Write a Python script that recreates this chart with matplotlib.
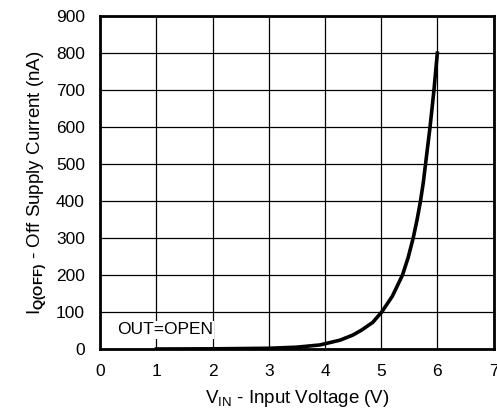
import matplotlib.pyplot as plt

plt.rcParams['font.family'] = ['Liberation Sans', 'DejaVu Sans']
plt.rcParams['mathtext.fontset'] = 'custom'
plt.rcParams['mathtext.rm'] = 'Liberation Sans'
plt.rcParams['mathtext.bf'] = 'Liberation Sans:bold'

# data
v_in = [1.0, 2.0, 3.0, 3.5, 3.91, 4.27, 4.5, 4.65, 4.85, 5.01, 5.2, 5.38,
        5.48, 5.57, 5.64, 5.70, 5.75, 5.79, 5.83, 5.87, 5.94, 6.0]
i_off = [0.0, 0.5, 2, 5, 11, 24, 38, 51, 72, 100, 143, 200,
         247, 300, 350, 400, 450, 500, 550, 600, 700, 800]

x_ticks = [0, 1, 2, 3, 4, 5, 6, 7]
y_ticks = [0, 100, 200, 300, 400, 500, 600, 700, 800, 900]

fig = plt.figure(figsize=(4.97, 4.15), dpi=100)
ax = fig.add_axes([0.2016, 0.159, 0.7914, 0.802])

ax.plot(v_in, i_off, color='black', linewidth=2.6, solid_joinstyle='round')

ax.set_xlim(0, 7)
ax.set_ylim(0, 900)
ax.set_xticks(x_ticks)
ax.set_yticks(y_ticks)
ax.grid(True, color='black', linewidth=0.9)
ax.tick_params(length=0, labelsize=12.5, pad=11)
for s in ax.spines.values():
    s.set_linewidth(2)

ax.text(0.3, 52, 'OUT=OPEN', fontsize=12.5, va='center', ha='left',
        bbox=dict(facecolor='white', edgecolor='none', pad=1))

ax.set_xlabel(r'V$_{\mathrm{IN}}$ - Input Voltage (V)', fontsize=13.5, labelpad=6)
ax.set_ylabel(r'I$_{\mathbf{Q(OFF)}}$ - Off Supply Current (nA)', fontsize=13.5, labelpad=5)

fig.savefig('out.png', dpi=100)
